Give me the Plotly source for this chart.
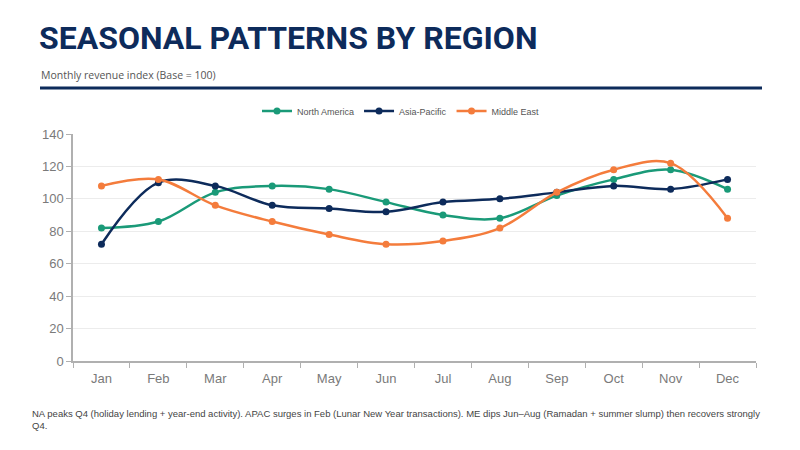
import plotly.graph_objects as go

months = ["Jan", "Feb", "Mar", "Apr", "May", "Jun", "Jul", "Aug", "Sep", "Oct", "Nov", "Dec"]
north_america = [82, 86, 104, 108, 106, 98, 90, 88, 102, 112, 118, 106]
asia_pacific = [72, 110, 108, 96, 94, 92, 98, 100, 104, 108, 106, 112]
middle_east = [108, 112, 96, 86, 78, 72, 74, 82, 104, 118, 122, 88]

series = [
    ("North America", north_america, "#1a9a78"),
    ("Asia-Pacific", asia_pacific, "#0d2b5b"),
    ("Middle East", middle_east, "#f47c3c"),
]

# the page body adds an 8px margin, so work in screen pixels and shift
OFF = 8
W, H = 800 - OFF, 450 - OFF
L, R, T, B = 73, 756, 134, 361  # plot area in screen pixels


def px(x):
    return (x - L) / (R - L)


def py(y):
    return (B - y) / (B - T)


fig = go.Figure()
for name, vals, color in series:
    fig.add_trace(
        go.Scatter(
            x=months,
            y=vals,
            name=name,
            mode="lines+markers",
            line=dict(color=color, width=2.5, shape="spline", smoothing=1),
            marker=dict(color=color, size=7),
        )
    )

fig.update_xaxes(
    range=[-0.5, 11.5],
    showline=True,
    linecolor="#b0b0b0",
    linewidth=1.5,
    ticks="outside",
    tickson="boundaries",
    tickcolor="#b0b0b0",
    ticklen=5,
    ticklabelstandoff=5,
    showgrid=False,
    tickangle=0,
    tickfont=dict(family="Liberation Sans", size=13, color="#7a7a7a"),
)
fig.update_yaxes(
    range=[0, 140],
    dtick=20,
    showline=True,
    linecolor="#b0b0b0",
    linewidth=1.5,
    ticks="outside",
    tickcolor="#b0b0b0",
    ticklen=5,
    gridcolor="#ececec",
    zeroline=False,
    tickfont=dict(family="Liberation Sans", size=13, color="#7a7a7a"),
)

fig.add_shape(
    type="line", xref="paper", yref="paper",
    x0=px(40), x1=px(762), y0=py(88), y1=py(88),
    line=dict(color="#0d2b5b", width=3),
)
fig.add_annotation(
    text="Monthly revenue index (Base = 100)",
    xref="paper", yref="paper", x=px(39), y=py(75),
    xanchor="left", yanchor="middle", showarrow=False,
    font=dict(family="Open Sans", size=10.5, color="#555555"),
)
fig.add_annotation(
    text="NA peaks Q4 (holiday lending + year-end activity). APAC surges in Feb (Lunar New Year transactions). "
    "ME dips Jun\u2013Aug (Ramadan + summer slump) then recovers strongly<br>Q4.",
    xref="paper", yref="paper", x=px(30), y=py(406),
    xanchor="left", yanchor="top", align="left", showarrow=False,
    font=dict(family="Liberation Sans", size=9.5, color="#444444"),
)

fig.update_layout(
    width=W,
    height=H,
    autosize=False,
    margin=dict(l=L - OFF, r=W - (R - OFF), t=T - OFF, b=H - (B - OFF), autoexpand=False),
    plot_bgcolor="white",
    paper_bgcolor="white",
    title=dict(
        text="<b>SEASONAL PATTERNS BY REGION</b>",
        xref="container", x=(39 - OFF) / W, xanchor="left",
        yref="container", y=1 - (38 - OFF) / H, yanchor="middle",
        font=dict(family="Roboto", size=32, color="#0d2b5b"),
    ),
    legend=dict(
        orientation="h",
        xref="paper", x=px(401), xanchor="center",
        yref="paper", y=py(111), yanchor="middle",
        font=dict(family="Liberation Sans", size=9, color="#555555"),
        itemwidth=30,
    ),
)

fig.write_html("out.html")
